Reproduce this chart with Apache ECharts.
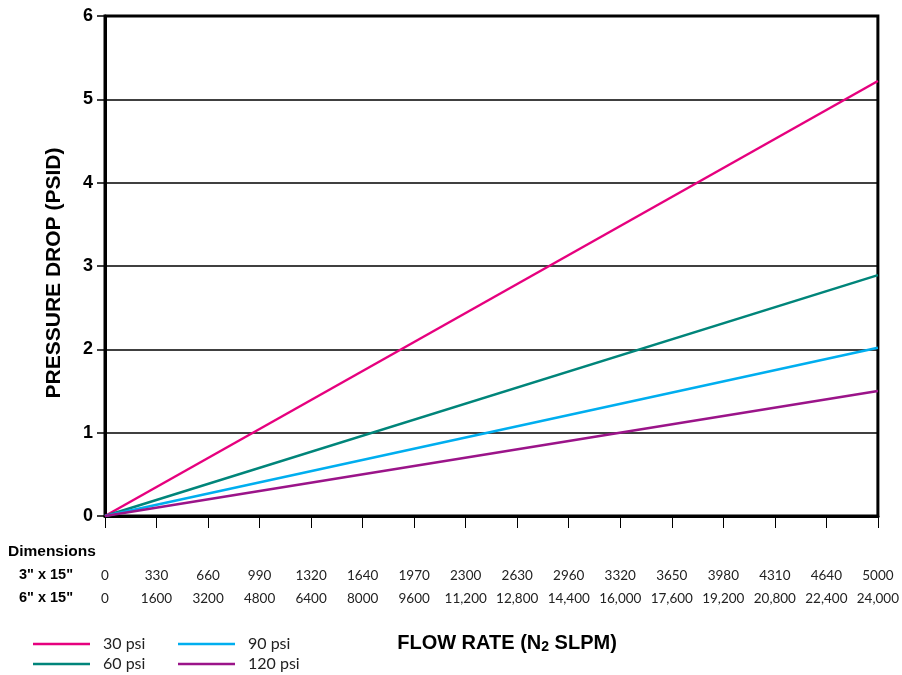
<!DOCTYPE html>
<html><head><meta charset="utf-8">
<script src="https://cdn.jsdelivr.net/npm/echarts@6/dist/echarts.min.js"></script>
<style>html,body{margin:0;padding:0;background:#fff}#c{width:902px;height:675px}</style>
</head><body><div id="c"></div>
<script>
var ticks3 = ['0','330','660','990','1320','1640','1970','2300','2630','2960','3320','3650','3980','4310','4640','5000'];
var ticks6 = ['0','1600','3200','4800','6400','8000','9600','11,200','12,800','14,400','16,000','17,600','19,200','20,800','22,400','24,000'];
var flow6 = [0, 24000];
var psi30 = [0, 5.22];
var psi60 = [0, 2.89];
var psi90 = [0, 2.02];
var psi120 = [0, 1.50];
var seriesNames = ['30 psi','60 psi','90 psi','120 psi'];
var seriesColors = ['#E6007E','#00857A','#00AEEF','#9B1489'];
var seriesVals = [psi30, psi60, psi90, psi120];

var chart = echarts.init(document.getElementById('c'));
var lightFont = {fontFamily:'Lato', fontWeight:'normal', color:'#222'};
chart.setOption({
  animation:false,
  grid:{left:105,right:19,top:16,bottom:159,show:true,borderColor:'#000',borderWidth:3,backgroundColor:'transparent'},
  xAxis:{type:'value',min:0,max:24000,interval:1600,
    axisLine:{show:true,onZero:false,lineStyle:{color:'#000',width:3}},
    axisTick:{show:true,length:12,lineStyle:{color:'#000',width:1}},
    splitLine:{show:false},
    axisLabel:{margin:48,interval:0,showMinLabel:true,showMaxLabel:true,
      formatter:function(v){var i=Math.round(v/1600);return '{a|'+ticks3[i]+'}\n{b|'+ticks6[i]+'}';},
      rich:{a:Object.assign({fontSize:13.5,lineHeight:23},lightFont),b:Object.assign({fontSize:13.5,lineHeight:23},lightFont)}}
  },
  yAxis:{type:'value',min:0,max:6,interval:1,
    axisLine:{show:true,lineStyle:{color:'#000',width:3}},
    axisTick:{show:true,length:8,lineStyle:{color:'#000',width:1.5}},
    splitLine:{show:true,lineStyle:{color:'#000',width:1.5}},
    axisLabel:{margin:12,fontFamily:'Liberation Sans',fontWeight:'bold',fontSize:18,color:'#000'}
  },
  legend:[
    {data:['30 psi','60 psi'],orient:'vertical',left:33,top:636,padding:0,itemWidth:57,itemHeight:2.5,itemGap:4,icon:'rect',
      textStyle:Object.assign({fontSize:16,padding:[0,0,0,8]},lightFont)},
    {data:['90 psi','120 psi'],orient:'vertical',left:178,top:636,padding:0,itemWidth:57,itemHeight:2.5,itemGap:4,icon:'rect',
      textStyle:Object.assign({fontSize:16,padding:[0,0,0,8]},lightFont)}
  ],
  graphic:[
    {type:'text',left:8,top:544,style:{text:'Dimensions',fontFamily:'Liberation Sans',fontWeight:'bold',fontSize:15.5,fill:'#000'}},
    {type:'text',left:19,top:567,style:{text:'3" x 15"',fontFamily:'Liberation Sans',fontWeight:'bold',fontSize:14.5,fill:'#000'}},
    {type:'text',left:19,top:590,style:{text:'6" x 15"',fontFamily:'Liberation Sans',fontWeight:'bold',fontSize:14.5,fill:'#000'}},
    {type:'text',x:507,y:643,style:{text:'{t|FLOW RATE (N}{s|2}{t| SLPM)}',align:'center',verticalAlign:'middle',rich:{
      t:{fontFamily:'Liberation Sans',fontWeight:'bold',fontSize:20,fill:'#000',lineHeight:26},
      s:{fontFamily:'Liberation Sans',fontWeight:'bold',fontSize:14,fill:'#000',padding:[9,0,0,0],lineHeight:26}}}},
    {type:'text',x:54,y:273,rotation:Math.PI/2,style:{text:'PRESSURE DROP (PSID)',fontFamily:'Liberation Sans',fontWeight:'bold',fontSize:21,fill:'#000',align:'center',verticalAlign:'middle'}}
  ],
  series:seriesNames.map(function(n,k){
    return {name:n,type:'line',showSymbol:false,symbol:'none',
      color:seriesColors[k],lineStyle:{width:2.5,color:seriesColors[k]},
      data:flow6.map(function(x,i){return [x,seriesVals[k][i]];})};
  })
});
</script></body></html>
